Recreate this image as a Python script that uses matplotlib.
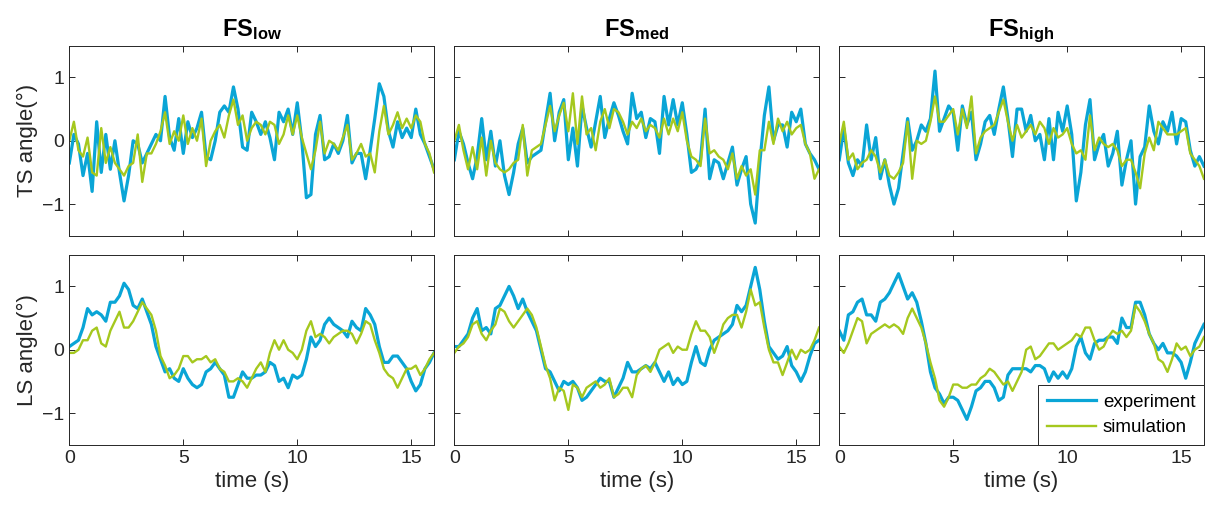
import numpy as np
import matplotlib
matplotlib.use('Agg')
import matplotlib.pyplot as plt

plt.rcParams['font.family'] = 'Liberation Sans'
plt.rcParams['mathtext.fontset'] = 'custom'
plt.rcParams['mathtext.rm'] = 'Liberation Sans'
plt.rcParams['mathtext.bf'] = 'Liberation Sans:bold'

# time grid, 0.2 s
t = np.linspace(0, 16, 81)

# TS angle, one row of 5 values = 1 s
ts_low_exp = [-0.35, 0.10, -0.05, -0.55, -0.20,
              -0.80, 0.30, -0.50, 0.10, -0.45,
              0.00, -0.50, -0.95, -0.55, 0.00,
              -0.05, -0.35, -0.20, -0.05, 0.10,
              0.00, 0.70, 0.05, -0.15, 0.35,
              -0.20, 0.30, 0.05, 0.20, 0.45,
              -0.25, -0.30, 0.00, 0.45, 0.55,
              0.45, 0.85, 0.50, -0.10, -0.15,
              0.45, 0.30, 0.10, 0.30, 0.05,
              -0.30, 0.45, 0.30, 0.50, 0.10,
              0.60, 0.00, -0.90, -0.85, 0.10,
              0.40, -0.30, -0.25, -0.05, -0.20,
              0.00, 0.40, -0.35, -0.20, -0.20,
              -0.60, -0.15, 0.35, 0.90, 0.70,
              0.15, -0.10, 0.30, 0.05, 0.20,
              0.05, 0.50, 0.10, -0.05, -0.25,
              -0.45]
ts_low_sim = [0.00, 0.30, -0.15, -0.25, 0.05,
              -0.50, -0.55, 0.20, -0.35, -0.10,
              -0.35, -0.45, -0.55, -0.40, -0.35,
              0.10, -0.65, -0.20, -0.20, -0.05,
              0.15, 0.45, -0.05, 0.15, 0.00,
              0.40, -0.05, 0.20, 0.00, 0.35,
              -0.40, 0.00, 0.15, 0.25, 0.05,
              0.40, 0.65, 0.25, 0.40, 0.00,
              0.20, 0.30, 0.25, 0.10, 0.30,
              0.25, -0.05, 0.10, 0.40, 0.10,
              0.40, 0.05, -0.20, -0.45, -0.15,
              0.30, -0.20, 0.00, -0.05, -0.15,
              0.05, 0.25, -0.30, -0.20, -0.05,
              -0.25, -0.20, -0.50, 0.15, 0.55,
              0.10, 0.25, 0.45, 0.20, 0.35,
              0.20, 0.40, 0.30, -0.05, -0.20,
              -0.50]
ts_med_exp = [-0.30, 0.15, -0.05, -0.35, -0.60,
              -0.25, 0.35, -0.30, 0.15, -0.40,
              0.00, -0.55, -0.85, -0.50, -0.05,
              0.20, -0.35, -0.25, -0.20, -0.15,
              0.30, 0.75, 0.00, 0.45, 0.65,
              -0.30, 0.20, -0.40, 0.55, 0.20,
              -0.10, 0.30, 0.70, 0.05, 0.35,
              0.60, 0.40, 0.15, -0.05, 0.75,
              0.35, 0.45, 0.05, 0.35, 0.30,
              -0.20, 0.70, 0.25, 0.65, 0.25,
              0.60, 0.10, -0.50, -0.45, -0.30,
              0.50, -0.60, -0.30, -0.35, -0.60,
              -0.35, -0.10, -0.70, -0.45, -0.25,
              -1.00, -1.30, -0.35, 0.40, 0.85,
              0.00, 0.25, 0.25, -0.10, 0.45,
              0.30, 0.50, -0.05, -0.20, -0.30,
              -0.45]
ts_med_sim = [0.00, 0.25, -0.15, -0.45, -0.10,
              -0.45, 0.05, -0.55, 0.00, -0.35,
              -0.45, -0.50, -0.45, -0.35, -0.30,
              0.25, -0.55, -0.15, -0.10, -0.05,
              0.25, 0.55, 0.15, 0.40, 0.60,
              0.15, 0.75, -0.05, 0.70, 0.10,
              0.20, -0.15, 0.30, 0.50, 0.20,
              0.50, 0.45, 0.30, 0.10, 0.30,
              0.20, 0.35, 0.15, 0.25, 0.20,
              0.05, 0.35, 0.10, 0.35, 0.15,
              0.45, 0.00, -0.25, -0.30, -0.40,
              0.35, -0.20, -0.15, -0.25, -0.30,
              -0.45, -0.20, -0.60, -0.40, -0.55,
              -0.45, -0.85, -0.15, -0.15, 0.30,
              -0.05, 0.35, 0.15, 0.30, 0.10,
              0.20, 0.25, -0.05, -0.20, -0.60,
              -0.45]
ts_high_exp = [-0.30, 0.20, -0.35, -0.55, -0.30,
               -0.40, 0.25, -0.30, 0.05, -0.60,
               -0.30, -0.70, -1.00, -0.75, -0.20,
               0.35, -0.15, 0.00, 0.25, 0.15,
               0.35, 1.10, 0.15, 0.35, 0.55,
               0.45, -0.15, 0.55, 0.25, 0.45,
               -0.30, -0.05, 0.30, 0.40, 0.10,
               0.50, 0.85, 0.35, -0.25, 0.50,
               0.50, 0.15, 0.40, 0.00, 0.10,
               -0.30, 0.35, -0.30, 0.45, 0.15,
               0.55, 0.10, -0.95, -0.50, 0.25,
               0.65, -0.30, -0.05, 0.10, -0.40,
               -0.20, 0.15, -0.70, -0.30, 0.00,
               -1.00, -0.25, -0.10, 0.55, 0.15,
               -0.05, 0.30, 0.15, 0.45, -0.05,
               0.35, 0.30, -0.15, -0.40, -0.25,
               -0.40]
ts_high_sim = [-0.05, 0.30, -0.30, -0.20, -0.45,
               -0.35, -0.30, -0.15, -0.25, -0.50,
               -0.30, -0.55, -0.60, -0.50, -0.35,
               0.30, -0.60, 0.00, -0.05, 0.00,
               0.30, 0.70, 0.30, 0.30, 0.40,
               0.50, 0.10, 0.50, 0.20, 0.70,
               -0.20, 0.05, 0.15, 0.20, 0.25,
               0.45, 0.65, 0.30, 0.00, 0.25,
               0.05, 0.15, 0.25, 0.10, 0.30,
               0.20, -0.05, 0.20, 0.05, 0.10,
               0.20, -0.05, -0.20, -0.15, -0.30,
               0.40, -0.15, 0.05, -0.05, -0.10,
               -0.05, -0.15, -0.40, -0.30, -0.30,
               -0.50, -0.75, -0.20, 0.05, -0.15,
               0.30, 0.20, 0.10, 0.10, 0.10,
               0.15, 0.20, -0.20, -0.30, -0.40,
               -0.60]

# LS angle
ls_low_exp = [0.05, 0.10, 0.15, 0.35, 0.65,
              0.55, 0.60, 0.55, 0.45, 0.75,
              0.75, 0.85, 1.05, 0.95, 0.70,
              0.65, 0.80, 0.60, 0.40, 0.05,
              -0.15, -0.35, -0.30, -0.45, -0.50,
              -0.30, -0.45, -0.55, -0.60, -0.55,
              -0.35, -0.30, -0.20, -0.30, -0.40,
              -0.75, -0.75, -0.55, -0.35, -0.45,
              -0.45, -0.40, -0.40, -0.35, -0.20,
              -0.25, -0.50, -0.45, -0.60, -0.40,
              -0.45, -0.40, -0.15, 0.20, 0.05,
              0.15, 0.40, 0.50, 0.40, 0.35,
              0.30, 0.20, 0.45, 0.35, 0.30,
              0.65, 0.55, 0.40, 0.05, -0.20,
              -0.20, -0.10, -0.10, -0.20, -0.30,
              -0.50, -0.65, -0.55, -0.30, -0.20,
              -0.05]
ls_low_sim = [-0.05, -0.05, 0.00, 0.15, 0.15,
              0.30, 0.35, 0.10, 0.05, 0.30,
              0.45, 0.60, 0.35, 0.35, 0.45,
              0.60, 0.75, 0.65, 0.55, 0.30,
              -0.10, -0.25, -0.45, -0.40, -0.30,
              -0.10, -0.10, -0.20, -0.15, -0.15,
              -0.10, -0.20, -0.15, -0.30, -0.35,
              -0.50, -0.50, -0.45, -0.50, -0.60,
              -0.45, -0.30, -0.20, -0.35, -0.05,
              0.15, 0.00, 0.15, 0.00, -0.05,
              -0.15, 0.00, 0.30, 0.45, 0.20,
              0.25, 0.20, 0.10, 0.20, 0.25,
              0.30, 0.30, 0.25, 0.10, 0.25,
              0.45, 0.40, 0.15, -0.05, -0.30,
              -0.40, -0.45, -0.60, -0.45, -0.30,
              -0.30, -0.25, -0.40, -0.30, -0.15,
              -0.05]
ls_med_exp = [0.05, 0.05, 0.15, 0.25, 0.50,
              0.65, 0.30, 0.35, 0.25, 0.65,
              0.70, 0.85, 1.00, 0.85, 0.65,
              0.80, 0.60, 0.45, 0.30, 0.00,
              -0.30, -0.35, -0.50, -0.65, -0.50,
              -0.55, -0.50, -0.60, -0.80, -0.75,
              -0.65, -0.55, -0.45, -0.50, -0.50,
              -0.75, -0.60, -0.45, -0.20, -0.35,
              -0.35, -0.30, -0.25, -0.30, -0.20,
              -0.35, -0.50, -0.35, -0.55, -0.45,
              -0.55, -0.50, -0.20, 0.05, -0.20,
              -0.25, 0.00, 0.15, 0.20, 0.25,
              0.30, 0.40, 0.70, 0.60, 0.70,
              1.00, 1.30, 0.95, 0.45, 0.05,
              -0.05, -0.15, -0.10, 0.05, -0.25,
              -0.35, -0.50, -0.35, -0.10, 0.10,
              0.15]
ls_med_sim = [-0.05, 0.05, 0.10, 0.20, 0.40,
              0.45, 0.25, 0.15, 0.30, 0.40,
              0.65, 0.60, 0.45, 0.35, 0.45,
              0.55, 0.65, 0.55, 0.35, 0.05,
              -0.25, -0.45, -0.80, -0.60, -0.65,
              -0.95, -0.55, -0.60, -0.75, -0.60,
              -0.55, -0.50, -0.60, -0.55, -0.45,
              -0.75, -0.70, -0.60, -0.60, -0.75,
              -0.40, -0.30, -0.25, -0.35, -0.20,
              0.00, 0.05, 0.10, -0.05, 0.05,
              0.00, 0.00, 0.25, 0.45, 0.30,
              0.30, 0.20, -0.05, 0.15, 0.40,
              0.50, 0.55, 0.55, 0.35, 0.60,
              0.95, 0.70, 0.75, 0.35, 0.00,
              -0.20, -0.20, -0.40, -0.20, 0.00,
              -0.15, 0.00, -0.05, 0.00, 0.15,
              0.35]
ls_high_exp = [0.30, 0.15, 0.55, 0.60, 0.75,
               0.80, 0.55, 0.55, 0.45, 0.75,
               0.80, 0.90, 1.05, 1.20, 1.00,
               0.80, 0.90, 0.75, 0.45, 0.10,
               -0.35, -0.60, -0.70, -0.85, -0.75,
               -0.75, -0.80, -0.95, -1.10, -0.90,
               -0.65, -0.60, -0.50, -0.50, -0.60,
               -0.80, -0.75, -0.40, -0.30, -0.30,
               -0.30, -0.30, -0.35, -0.25, -0.25,
               -0.30, -0.50, -0.35, -0.45, -0.35,
               -0.45, -0.30, 0.05, 0.20, -0.05,
               -0.15, 0.10, 0.15, 0.15, 0.20,
               0.20, 0.10, 0.50, 0.35, 0.35,
               0.75, 0.75, 0.55, 0.25, 0.10,
               0.00, 0.10, -0.05, -0.05, -0.10,
               -0.20, -0.45, -0.20, 0.10, 0.25,
               0.40]
ls_high_sim = [0.05, -0.05, 0.10, 0.30, 0.50,
               0.45, 0.10, 0.25, 0.30, 0.35,
               0.40, 0.35, 0.40, 0.35, 0.25,
               0.50, 0.65, 0.50, 0.35, 0.10,
               -0.20, -0.45, -0.80, -0.90, -0.75,
               -0.55, -0.55, -0.60, -0.60, -0.55,
               -0.55, -0.45, -0.40, -0.30, -0.35,
               -0.45, -0.55, -0.50, -0.65, -0.50,
               -0.35, 0.00, 0.05, -0.15, -0.10,
               0.00, 0.10, 0.10, 0.00, 0.05,
               0.10, 0.15, 0.25, 0.20, 0.35,
               0.35, 0.15, 0.00, 0.05, 0.20,
               0.30, 0.25, 0.30, 0.20, 0.30,
               0.70, 0.60, 0.45, 0.25, 0.10,
               -0.15, -0.20, -0.35, -0.15, 0.10,
               0.00, 0.05, -0.10, 0.00, 0.05,
               0.20]

titles = [r'$\mathbf{FS_{low}}$', r'$\mathbf{FS_{med}}$', r'$\mathbf{FS_{high}}$']
ylabels = ['TS angle(°)', 'LS angle(°)']
exp_data = [[ts_low_exp, ts_med_exp, ts_high_exp],
            [ls_low_exp, ls_med_exp, ls_high_exp]]
sim_data = [[ts_low_sim, ts_med_sim, ts_high_sim],
            [ls_low_sim, ls_med_sim, ls_high_sim]]

c_exp = '#0AA5D6'
c_sim = '#A5C81E'
dark = '#262626'

fig = plt.figure(figsize=(12.1, 5.17), dpi=100)
lefts = [0.0573, 0.3755, 0.6936]
bottoms = [0.544, 0.1398]
w, h = 0.3014, 0.3675

for r in range(2):
    for c in range(3):
        ax = fig.add_axes([lefts[c], bottoms[r], w, h])
        ax.plot(t, exp_data[r][c], color=c_exp, lw=2.3, label='experiment')
        ax.plot(t, sim_data[r][c], color=c_sim, lw=1.7, label='simulation')
        ax.set_xlim(0, 16)
        ax.set_ylim(-1.5, 1.5)
        ax.set_xticks([0, 5, 10, 15])
        ax.set_yticks([-1, 0, 1])
        ax.tick_params(direction='in', top=True, right=True, length=4,
                       width=0.7, colors=dark, labelsize=14)
        for s in ax.spines.values():
            s.set_color(dark)
            s.set_linewidth(0.7)
        if r == 0:
            ax.set_xticklabels([])
            ax.set_title(titles[c], fontsize=17, pad=7)
        else:
            ax.set_xlabel('time (s)', fontsize=16, color=dark, labelpad=3)
        if c == 0:
            ax.set_ylabel(ylabels[r], fontsize=16, color=dark, labelpad=3)
        else:
            ax.set_yticklabels([])
        if r == 1 and c == 2:
            leg = ax.legend(loc='lower right', borderaxespad=0, fontsize=13.5,
                            fancybox=False, handlelength=2.6, framealpha=1,
                            borderpad=0.45, labelspacing=0.45, handletextpad=0.4)
            leg.get_frame().set_edgecolor(dark)
            leg.get_frame().set_linewidth(0.7)

fig.savefig('out.png', dpi=100)
